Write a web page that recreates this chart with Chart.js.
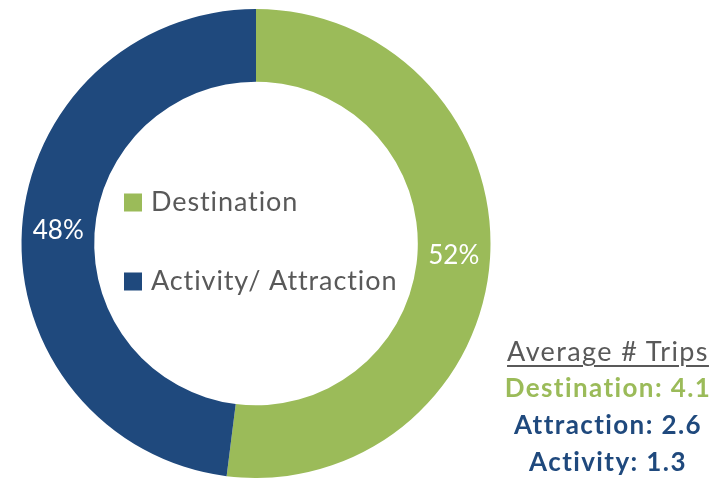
<!DOCTYPE html>
<html>
<head>
<meta charset="utf-8">
<script src="https://cdn.jsdelivr.net/npm/chart.js@4/dist/chart.umd.min.js"></script>
<style>
  html, body { margin: 0; padding: 0; background: #fff; overflow: hidden; }
  #wrap { position: relative; width: 723px; height: 478px; }
  #trips {
    position: absolute; left: 490px; top: 332px; width: 236px;
    text-align: center; font-family: Lato, 'Open Sans', sans-serif;
  }
  #trips .head { color: #595959; font-size: 27px; letter-spacing: 1.4px; text-decoration: underline; text-underline-offset: 4px; line-height: 37px; }
  #trips .row { font-weight: bold; font-size: 26px; letter-spacing: 1.4px; line-height: 37px; }
</style>
</head>
<body>
<div id="wrap">
  <canvas id="chart" width="723" height="478"></canvas>
  <div id="trips"></div>
</div>
<script>
const categories = ['Destination', 'Activity/ Attraction']
const shares = [52, 48]
const colors = ['#9BBB59', '#1F497D']

const tripTitle = 'Average # Trips'
const tripLabels = ['Destination', 'Attraction', 'Activity']
const tripValues = [4.1, 2.6, 1.3]
const tripColors = ['#9BBB59', '#1F497D', '#1F497D']

const FONT = "Lato, 'Open Sans', sans-serif"

// percentage labels sitting on each ring segment
const sliceLabels = {
  id: 'sliceLabels',
  afterDatasetsDraw(chart) {
    const ctx = chart.ctx
    const meta = chart.getDatasetMeta(0)
    ctx.save()
    ctx.fillStyle = '#ffffff'
    ctx.font = '26px ' + FONT
    ctx.textAlign = 'center'
    ctx.textBaseline = 'middle'
    meta.data.forEach((arc, i) => {
      const p = arc.tooltipPosition()
      ctx.fillText(shares[i] + '%', p.x, p.y)
    })
    ctx.restore()
  }
}

// legend drawn inside the hole
const innerLegend = {
  id: 'innerLegend',
  afterDraw(chart) {
    const ctx = chart.ctx
    const arc = chart.getDatasetMeta(0).data[0]
    const cx = arc.x
    const cy = arc.y
    const rows = [-41, 38]
    ctx.save()
    ctx.font = '27px ' + FONT
    ctx.letterSpacing = '0.9px'
    ctx.textBaseline = 'middle'
    ctx.textAlign = 'left'
    categories.forEach((name, i) => {
      const y = cy + rows[i]
      ctx.fillStyle = colors[i]
      ctx.fillRect(cx - 132, y - 9, 18, 18)
      ctx.fillStyle = '#595959'
      ctx.fillText(name, cx - 105, y)
    })
    ctx.restore()
  }
}

new Chart(document.getElementById('chart'), {
  type: 'doughnut',
  data: {
    labels: categories,
    datasets: [
      {
        data: shares,
        backgroundColor: colors,
        borderWidth: 0
      }
    ]
  },
  options: {
    responsive: false,
    animation: false,
    cutout: '69%',
    layout: {
      padding: { left: 21, top: 9, right: 232, bottom: 0 }
    },
    plugins: {
      legend: { display: false },
      tooltip: { enabled: false }
    }
  },
  plugins: [sliceLabels, innerLegend]
})

const trips = document.getElementById('trips')
let html = '<div class="head">' + tripTitle + '</div>'
tripLabels.forEach((name, i) => {
  html += '<div class="row" style="color:' + tripColors[i] + '">' + name + ': ' + tripValues[i].toFixed(1) + '</div>'
})
trips.innerHTML = html
</script>
</body>
</html>
